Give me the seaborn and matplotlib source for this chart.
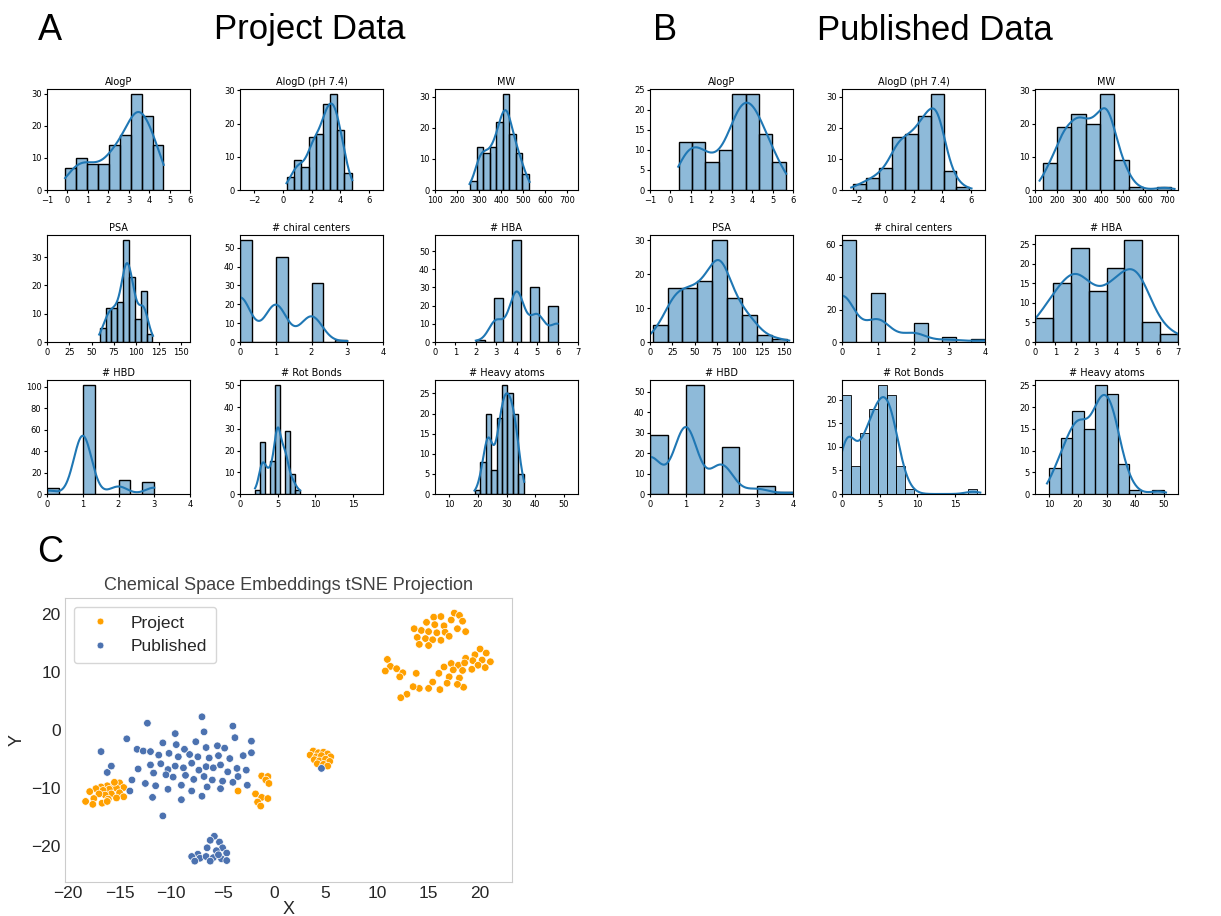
import numpy as np
import pandas as pd
import matplotlib
matplotlib.use("Agg")
import matplotlib.pyplot as plt
import seaborn as sns

# histogram panels: counts per bin
titles = ["AlogP", "AlogD (pH 7.4)", "MW", "PSA", "# chiral centers", "# HBA",
          "# HBD", "# Rot Bonds", "# Heavy atoms"]

# Project data
proj_alogp = [7, 10, 8, 8, 14, 17, 30, 23, 14]
proj_alogd = [4, 9, 7, 16, 17, 26, 29, 18, 5]
proj_mw = [3, 14, 12, 14, 22, 31, 18, 12, 5]
proj_psa = [5, 12, 12, 14, 36, 23, 8, 18, 3]
proj_chiral_vals = [0, 1, 2, 3]
proj_chiral = [54, 45, 31, 1]
proj_hba_vals = [2, 3, 4, 5, 6]
proj_hba = [1, 24, 56, 30, 20]
proj_hbd_vals = [0, 1, 2, 3]
proj_hbd = [6, 101, 13, 11]
proj_rot_vals = [2, 3, 4, 5, 6, 7, 8]
proj_rot = [2, 24, 15, 50, 29, 9, 2]
proj_heavy = [1, 8, 20, 6, 19, 27, 25, 20, 5]
proj_ranges = [(-0.1, 4.7), (0.3, 4.8), (260, 527), (59, 118), (0, 3), (2, 6),
               (0, 3), (2, 8), (19, 36)]
proj_nbins = [9, 9, 9, 9, 9, 9, 9, 9, 9]

# Published data
pub_alogp = [12, 12, 7, 10, 24, 24, 14, 7]
pub_alogd = [2, 4, 7, 17, 18, 24, 31, 6, 1]
pub_mw = [8, 19, 23, 20, 29, 9, 1, 0, 1]
pub_psa = [5, 16, 16, 18, 30, 13, 8, 2, 1]
pub_chiral_vals = [0, 1, 2, 3, 4]
pub_chiral = [63, 30, 12, 3, 2]
pub_hba_vals = [0, 1, 2, 3, 4, 5, 6, 7]
pub_hba = [6, 15, 24, 13, 19, 26, 5, 2]
pub_hbd_vals = [0, 1, 2, 3, 4]
pub_hbd = [29, 53, 23, 4, 1]
pub_rot = [21, 6, 13, 18, 23, 21, 6, 1, 0, 0, 0, 0, 0, 0, 1]
pub_heavy = [6, 13, 19, 15, 25, 23, 7, 1, 0, 1]
pub_ranges = [(0.4, 5.65), (-2.2, 5.9), (135, 720), (3, 153), (0, 4), (0, 7),
              (0, 4), (0, 18), (10, 50)]
pub_nbins = [8, 9, 9, 9, 10, 8, 8, 15, 10]

xlims = [(-1, 6), (-3, 7), (100, 750), (0, 160), (0, 4), (0, 7), (0, 4), (0, 19), (5, 55)]
xticks = [range(-1, 7), [-2, 0, 2, 4, 6], range(100, 800, 100), range(0, 151, 25),
          range(0, 5), range(0, 8), range(0, 5), [0, 5, 10, 15], range(10, 51, 10)]

proj_sets = [(None, proj_alogp), (None, proj_alogd), (None, proj_mw), (None, proj_psa),
             (proj_chiral_vals, proj_chiral), (proj_hba_vals, proj_hba),
             (proj_hbd_vals, proj_hbd), (proj_rot_vals, proj_rot), (None, proj_heavy)]
pub_sets = [(None, pub_alogp), (None, pub_alogd), (None, pub_mw), (None, pub_psa),
            (pub_chiral_vals, pub_chiral), (pub_hba_vals, pub_hba),
            (pub_hbd_vals, pub_hbd), (None, pub_rot), (None, pub_heavy)]

# tSNE embedding points
project_xy = [
    (17.5, 20.2), (18.0, 19.8), (17.2, 19.0), (18.3, 18.8), (17.8, 17.5), (18.6, 17.0),
    (15.5, 19.5), (16.2, 19.6), (14.8, 18.6), (15.6, 18.2), (16.5, 18.0), (14.3, 17.2),
    (15.0, 17.0), (15.8, 16.8), (16.6, 16.9), (13.9, 16.0), (14.7, 15.8), (15.4, 15.6),
    (16.2, 15.5), (15.0, 14.6), (14.1, 14.8), (13.6, 17.5), (17.0, 16.2),
    (20.0, 14.0), (20.6, 13.3), (19.5, 13.0), (18.6, 12.4), (19.3, 12.0), (20.2, 12.1),
    (21.0, 11.8), (17.2, 11.5), (17.9, 11.2), (18.5, 11.6), (19.8, 11.2), (20.5, 10.8),
    (16.5, 10.9), (17.4, 10.4), (18.3, 10.3), (19.2, 10.5), (16.0, 9.8), (17.0, 9.2),
    (18.0, 9.0), (15.4, 8.3), (16.8, 8.1), (18.4, 7.4), (15.0, 7.2), (16.1, 7.0),
    (14.1, 7.2), (17.8, 7.9),
    (11.0, 12.2), (11.3, 11.0), (11.9, 10.6), (10.8, 10.2), (12.5, 9.9), (12.2, 9.2),
    (13.8, 9.8), (13.5, 7.5), (12.9, 6.2), (12.3, 5.6),
    (3.8, -3.6), (4.3, -3.9), (4.8, -3.8), (5.2, -4.1), (3.5, -4.3), (4.1, -4.6),
    (4.6, -4.4), (5.5, -4.6), (3.9, -5.1), (4.4, -5.3), (5.0, -5.0), (5.4, -5.4),
    (4.2, -5.8), (4.8, -5.9), (5.2, -6.2),
    (-15.0, -9.1), (-15.6, -9.4), (-16.2, -9.6), (-16.8, -9.8), (-14.6, -9.9),
    (-15.3, -10.0), (-16.0, -10.2), (-16.6, -10.4), (-17.3, -10.1), (-17.9, -10.6),
    (-15.0, -10.8), (-15.8, -11.0), (-16.4, -11.2), (-17.0, -11.0), (-14.6, -11.5),
    (-15.3, -11.7), (-16.1, -11.9), (-17.5, -11.8), (-18.3, -12.3), (-17.6, -12.8),
    (-16.7, -12.6), (-16.2, -12.3), (-15.5, -9.0),
    (-1.2, -7.9), (-0.6, -8.0), (-0.8, -8.6), (-0.5, -9.2), (-1.8, -11.0), (-1.2, -11.6),
    (-0.6, -11.8), (-1.6, -12.4), (-1.3, -13.1), (-3.5, -10.5),
]
published_xy = [
    (4.6, -6.6),
    (-12.3, 1.2), (-7.0, 2.3), (-4.0, 0.7), (-14.3, -1.5), (-9.6, -0.6), (-6.8, -0.3),
    (-3.8, -1.3), (-2.2, -1.9), (-13.3, -3.3), (-12.7, -3.6), (-12.0, -3.7), (-10.8, -2.2),
    (-9.5, -2.5), (-8.7, -3.3), (-7.6, -2.0), (-6.6, -3.0), (-5.5, -2.7), (-4.8, -3.1),
    (-16.8, -3.7), (-11.2, -4.3), (-10.2, -4.0), (-9.3, -4.6), (-8.2, -4.2), (-7.4, -4.6),
    (-6.3, -4.8), (-5.4, -4.4), (-4.3, -4.9), (-3.0, -4.4), (-2.2, -3.9),
    (-12.0, -6.0), (-11.0, -5.8), (-10.3, -6.8), (-9.6, -6.2), (-8.8, -6.5), (-8.0, -5.7),
    (-7.3, -6.9), (-6.6, -6.3), (-5.9, -6.5), (-5.2, -6.0), (-4.5, -7.2), (-3.6, -6.6),
    (-2.7, -6.9), (-11.7, -7.4), (-10.5, -7.7), (-9.8, -8.1), (-8.6, -7.8), (-7.8, -8.5),
    (-6.8, -8.0), (-6.0, -8.6), (-5.0, -8.8), (-4.0, -9.0), (-13.2, -6.7), (-13.8, -8.6),
    (-12.5, -9.2), (-11.5, -9.6), (-10.3, -10.2), (-9.0, -9.5), (-8.0, -10.5), (-6.5, -9.8),
    (-5.2, -10.1), (-16.2, -7.3), (-15.8, -6.2), (-14.0, -10.5), (-11.8, -11.6),
    (-10.8, -14.8), (-9.0, -12.0), (-7.0, -11.4), (-3.5, -8.0), (-2.6, -9.5),
    (-5.8, -18.3), (-5.3, -19.3), (-6.2, -19.0), (-5.0, -20.3), (-4.6, -21.2), (-5.6, -20.8),
    (-6.5, -20.3), (-7.4, -21.4), (-8.0, -21.8), (-7.2, -22.1), (-6.6, -21.8), (-5.9, -22.0),
    (-5.1, -22.2), (-4.6, -22.5), (-7.7, -22.6), (-6.2, -22.6), (-5.4, -21.5),
]

W, H = 1221, 916
fig = plt.figure(figsize=(W / 100, H / 100), dpi=100)

col_left = [[47, 240, 435], [650, 842, 1035]]
row_top = [89, 235, 380]
row_h = [101, 107, 114]
ax_w = 143


def draw_hist(ax, vals, counts, rng, nb, i):
    binw = (rng[1] - rng[0]) / nb
    discrete = vals is not None
    if not discrete:
        edges = np.linspace(rng[0], rng[1], nb + 1)
        vals = (edges[:-1] + edges[1:]) / 2
    counts = np.asarray(counts, float)
    keep = counts > 0
    v = np.asarray(vals, float)[keep]
    w = counts[keep]
    n = w.sum()
    wn = w / n
    n_eff = 1 / (wn ** 2).sum()
    # match the bandwidth a kde of the raw (unbinned) values would use
    adj = (n_eff / n) ** 0.2 * np.sqrt(1 - (wn ** 2).sum())
    std = np.sqrt((wn * (v - (wn * v).sum()) ** 2).sum())
    h = n ** -0.2 * std
    cut = 0 if discrete else 0.5 * binw / h
    sns.histplot(x=v, weights=w, bins=nb, binrange=rng, kde=True, ax=ax,
                 kde_kws={"bw_adjust": adj, "cut": cut})
    ax.set_xlim(*xlims[i])
    ax.set_xticks(list(xticks[i]))
    ax.set_xlabel("")
    ax.set_ylabel("")
    ax.set_title(titles[i], fontsize=7, pad=3)
    ax.tick_params(labelsize=6, length=2.5, pad=1.5)


for p, (sets, ranges, nbins) in enumerate([(proj_sets, proj_ranges, proj_nbins),
                                           (pub_sets, pub_ranges, pub_nbins)]):
    for i in range(9):
        r, c = divmod(i, 3)
        left = col_left[p][c]
        top = row_top[r]
        h = row_h[r]
        ax = fig.add_axes([left / W, 1 - (top + h) / H, ax_w / W, h / H])
        draw_hist(ax, sets[i][0], sets[i][1], ranges[i], nbins[i], i)

big = dict(family=["Liberation Sans", "DejaVu Sans"])
fig.text(50 / W, 1 - 30 / H, "A", fontsize=26, va="center", ha="center", **big)
fig.text(310 / W, 1 - 30 / H, "Project Data", fontsize=25, va="center", ha="center", **big)
fig.text(665 / W, 1 - 30 / H, "B", fontsize=26, va="center", ha="center", **big)
fig.text(935 / W, 1 - 30 / H, "Published Data", fontsize=25, va="center", ha="center", **big)
fig.text(50 / W, 1 - 553 / H, "C", fontsize=26, va="center", ha="center", **big)

# tSNE scatter
df = pd.DataFrame(project_xy + published_xy, columns=["X", "Y"])
df["group"] = ["Project"] * len(project_xy) + ["Published"] * len(published_xy)

axc = fig.add_axes([65 / W, 1 - 882 / H, (512 - 65) / W, (882 - 598) / H])
sns.scatterplot(data=df, x="X", y="Y", hue="group",
                palette={"Project": "#ffa000", "Published": "#4c72b0"},
                s=30, edgecolor="white", linewidth=0.5, ax=axc)
axc.set_xlim(-20.3, 23.1)
axc.set_ylim(-26.2, 22.8)
axc.set_xticks([-20, -15, -10, -5, 0, 5, 10, 15, 20])
axc.set_yticks([-20, -10, 0, 10, 20])
for s in axc.spines.values():
    s.set_color("#cccccc")
axc.tick_params(length=0, labelsize=12.5, colors="#262626", pad=3)
for t in axc.get_xticklabels() + axc.get_yticklabels():
    t.set_family(["Liberation Sans", "DejaVu Sans"])
axc.set_xlabel("X", fontsize=13, color="#262626", labelpad=0, **big)
axc.set_ylabel("Y", fontsize=13, color="#262626", labelpad=4, **big)
axc.set_title("Chemical Space Embeddings tSNE Projection", fontsize=13,
              color="#404040", pad=6, **big)
leg = axc.legend(loc="upper left", markerscale=0.9, frameon=True,
                 borderpad=0.5, handletextpad=0.8,
                 prop={"family": ["Liberation Sans", "DejaVu Sans"], "size": 12.5})
leg.get_frame().set_edgecolor("#cccccc")
for t in leg.get_texts():
    t.set_color("#262626")

fig.savefig("out.png", dpi=100)
